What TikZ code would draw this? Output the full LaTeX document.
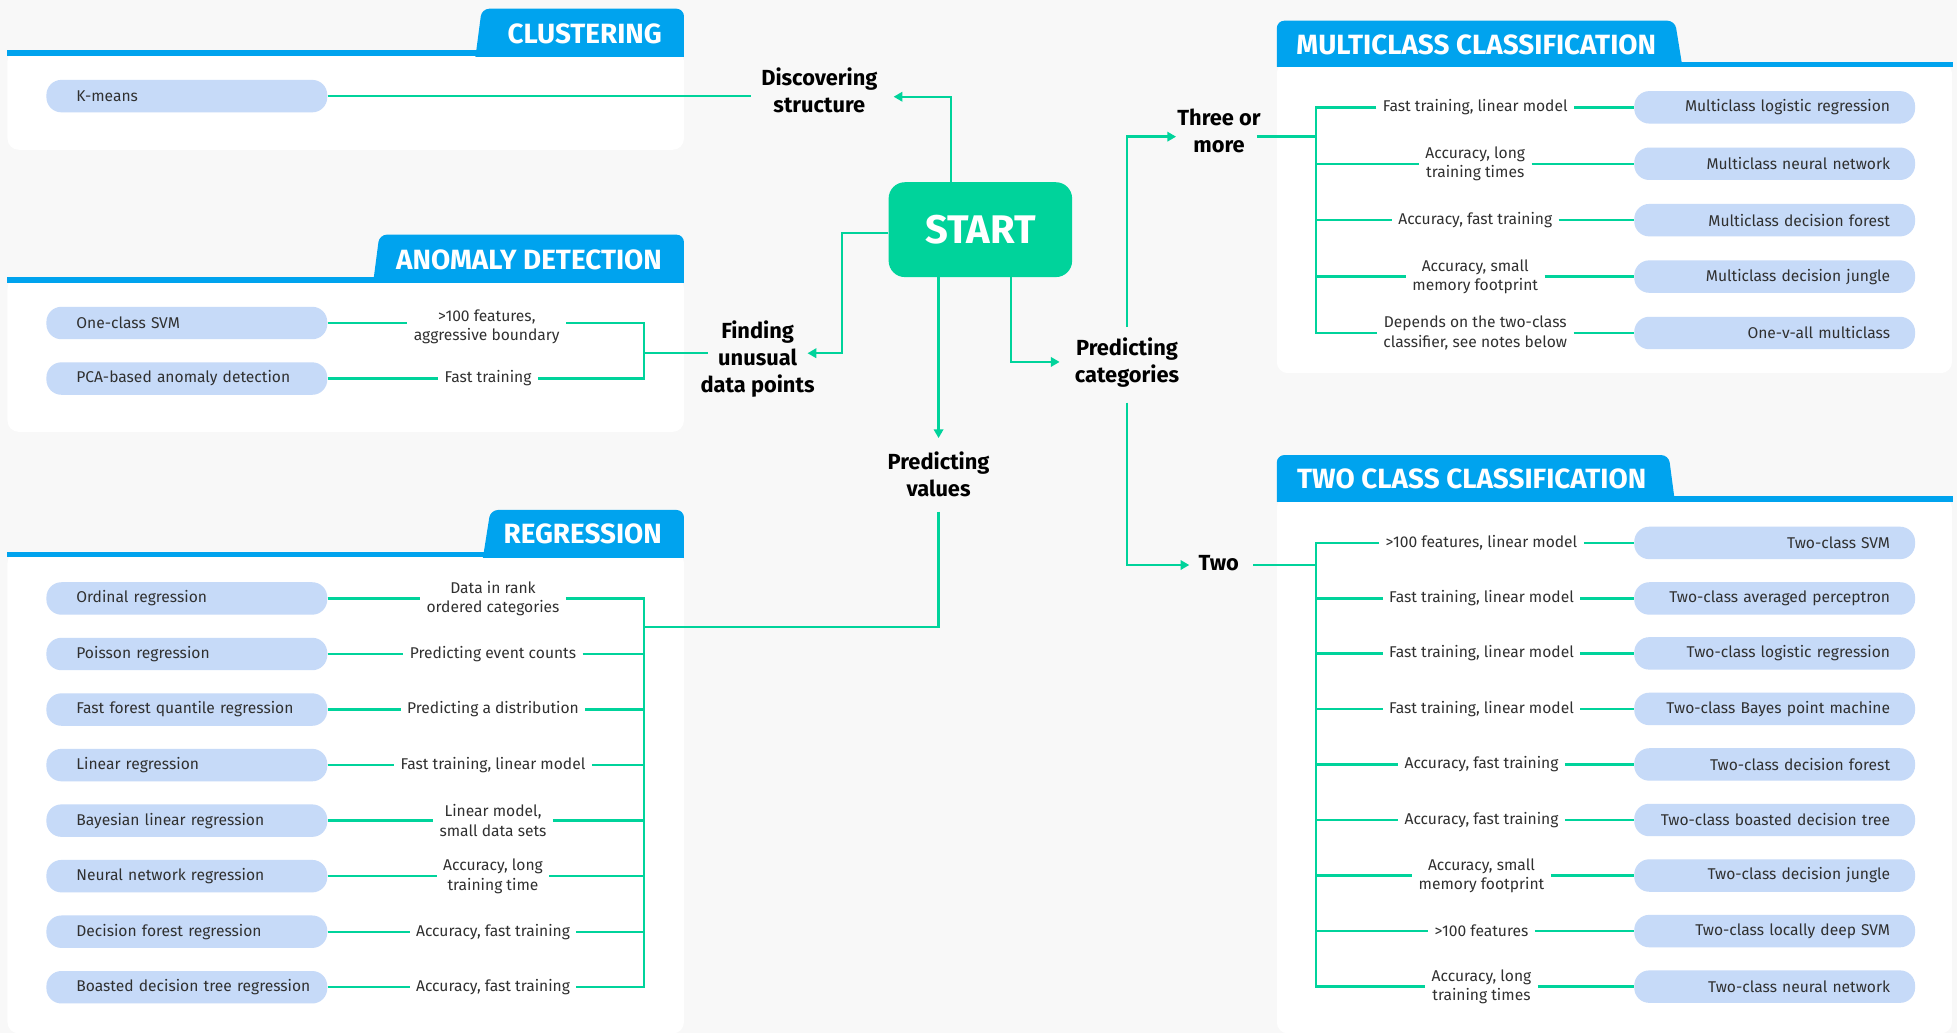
\documentclass[tikz,border=0pt]{standalone}
\usepackage{fontspec}
\setmainfont{Fira Sans}
\usetikzlibrary{arrows.meta,calc}

\definecolor{canvas}{HTML}{F8F8F8}
\definecolor{tabblue}{HTML}{00A3EE}
\definecolor{pillblue}{HTML}{C6DAF8}
\definecolor{flowgreen}{HTML}{00D39B}
\definecolor{ink}{HTML}{303030}

\newcommand\fBody{\fontsize{12.5pt}{15.5pt}\selectfont}
\newcommand\fTitle{\fontsize{22.3pt}{26pt}\selectfont\bfseries}
\newcommand\fDec{\fontsize{17.5pt}{21.5pt}\selectfont\bfseries}
\newcommand\fStart{\fontsize{32pt}{36pt}\selectfont\bfseries}

\begin{document}
\begin{tikzpicture}[x=1pt,y=-1pt,
  flow/.style={draw=flowgreen, line width=1.9pt},
  flowarrow/.style={flow, -{Triangle[length=7pt,width=7.5pt]}},
  pillL/.style={fill=pillblue, rounded corners=12pt, anchor=west, minimum height=26pt,
    inner ysep=0pt, inner xsep=12pt, text width=201pt, align=left, font=\fBody, text=ink,
    execute at begin node={\leavevmode\hspace*{12pt}}},
  pillR/.style={fill=pillblue, rounded corners=12pt, anchor=east, minimum height=26pt,
    inner ysep=0pt, inner xsep=20pt, text width=185pt, align=right, font=\fBody, text=ink},
  lab/.style={inner xsep=5pt, inner ysep=0pt, align=center, font=\fBody, text=ink},
  dec/.style={inner sep=0pt, align=center, font=\fDec, text=black},
  tabtitle/.style={font=\fTitle, text=white, inner sep=0pt},
]
% canvas
\fill[canvas] (0,0) rectangle (1568,828);
\useasboundingbox (0,0) rectangle (1568,828);

% white panels
\fill[white, rounded corners=9pt] (6,40) rectangle (548,120);
\fill[white, rounded corners=9pt] (6,222) rectangle (548,346);
\fill[white, rounded corners=9pt] (6,442) rectangle (548,828);
\fill[white, rounded corners=9pt] (1023,50) rectangle (1564,299);
\fill[white, rounded corners=9pt] (1023,398) rectangle (1564,828);

% header tabs (bottom corners clipped by the header rule)
\begin{scope}
  \clip (0,0) rectangle (1568,45);
  \fill[tabblue, rounded corners=6pt] (379.7,55) -- (386,7) -- (548,7) -- (548,55) -- cycle;
\end{scope}
\begin{scope}
  \clip (0,150) rectangle (1568,226.5);
  \fill[tabblue, rounded corners=6pt] (297.7,236) -- (304,188) -- (548,188) -- (548,236) -- cycle;
\end{scope}
\begin{scope}
  \clip (0,380) rectangle (1568,446.5);
  \fill[tabblue, rounded corners=6pt] (385.4,456.5) -- (393,408.6) -- (548,408.6) -- (548,456.5) -- cycle;
\end{scope}
\begin{scope}
  \clip (0,0) rectangle (1568,53.5);
  \fill[tabblue, rounded corners=6pt] (1023,63.5) -- (1023,16.6) -- (1342,16.6) -- (1349.6,63.5) -- cycle;
\end{scope}
\begin{scope}
  \clip (0,330) rectangle (1568,402);
  \fill[tabblue, rounded corners=6pt] (1023,412) -- (1023,364.6) -- (1337,364.6) -- (1343.3,412) -- cycle;
\end{scope}

% header rules
\fill[tabblue] (6,40) rectangle (548,45);
\fill[tabblue] (6,222) rectangle (548,226.5);
\fill[tabblue] (6,442) rectangle (548,446.5);
\fill[tabblue] (1023,49.5) rectangle (1565,53.5);
\fill[tabblue] (1023,397.5) rectangle (1565,402);

% titles
\node[tabtitle, anchor=east] (tClu) at (530.5,27) {CLUSTERING};
\node[tabtitle, anchor=east] (tAno) at (530.5,208) {ANOMALY DETECTION};
\node[tabtitle, anchor=east] (tReg) at (530.5,428) {REGRESSION};
\node[tabtitle, anchor=west] (tMul) at (1038.5,36) {MULTICLASS CLASSIFICATION};
\node[tabtitle, anchor=west] (tTwo) at (1039,384) {TWO CLASS CLASSIFICATION};

% start and decisions
\node[fill=flowgreen, rounded corners=13pt, minimum width=147pt, minimum height=76pt,
  inner sep=0pt, font=\fStart, text=white] (start) at (785.5,184) {START};
\node[dec] (disc) at (656.5,72.3) {Discovering\\structure};
\node[dec] (find) at (607,287.5) {Finding\\unusual\\data points};
\node[dec] (vals) at (752,380) {Predicting\\values};
\node[dec] (cats) at (903,290.5) {Predicting\\categories};
\node[dec] (three) at (976.7,105) {Three or\\more};
\node[dec] (two) at (976.5,450.8) {Two};

% connector end points and bends
\coordinate (discIn) at (602,77);
\coordinate (discTip) at (716,77.5);
\coordinate (findIn) at (567,283);
\coordinate (findTip) at (647,283);
\coordinate (valsTip) at (752,351);
\coordinate (valsOut) at (752,410);
\coordinate (regJoin) at (516,502.5);
\coordinate (catsTip) at (849,290);
\coordinate (catsUp) at (902.8,262);
\coordinate (catsDown) at (902.8,322.6);
\coordinate (threeTip) at (942.3,109.5);
\coordinate (twoTip) at (952.9,452.7);
\coordinate (threeOut) at (1007,109.5);
\coordinate (twoOut) at (1004,452.7);
\coordinate (aBrk) at (516,0);
\coordinate (rBrk) at (516,0);
\coordinate (mBrk) at (1054.5,0);
\coordinate (tBrk) at (1054.5,0);

% clustering
\node[pillL] (km) at (37,77) {K-means};
\draw[flow] (km.east) -- (discIn);

% anomaly detection
\node[pillL] (pSvm) at (37,258.8) {One-class SVM};
\node[pillL] (pPca) at (37,303.3) {PCA-based anomaly detection};
\node[lab] (lSvm) at (390,262) {>100 features,\\aggressive boundary};
\node[lab] (lPca) at (391,303.3) {Fast training};
\draw[flow] (pSvm.east) -- (pSvm.east -| lSvm.west);
\draw[flow] (pPca.east) -- (pPca.east -| lPca.west);
\draw[flow] (lSvm.east |- pSvm.east) -| (aBrk |- pPca.east) -- (lPca.east |- pPca.east);
\draw[flow] (aBrk |- findIn) -- (findIn);

% regression
\foreach \n/\y/\ptext/\ltext in {
  r1/479.5/{Ordinal regression}/{Data in rank\\ordered categories},
  r2/524/{Poisson regression}/{Predicting event counts},
  r3/568.5/{Fast forest quantile regression}/{Predicting a distribution},
  r4/613/{Linear regression}/{Fast training, linear model},
  r5/657.5/{Bayesian linear regression}/{Linear model,\\small data sets},
  r6/702/{Neural network regression}/{Accuracy, long\\training time},
  r7/746.5/{Decision forest regression}/{Accuracy, fast training},
  r8/791/{Boasted decision tree regression}/{Accuracy, fast training}}{
  \node[pillL] (p\n) at (37,\y) {\ptext};
  \node[lab] (l\n) at (395,\y) {\ltext};
  \draw[flow] (p\n.east) -- (p\n.east -| l\n.west);
}
\draw[flow] (lr1.east |- pr1.east) -| (rBrk |- pr8.east) -- (lr8.east |- pr8.east);
\foreach \n in {r2,r3,r4,r5,r6,r7}{
  \draw[flow] (l\n.east |- p\n.east) -- (rBrk |- p\n.east);
}
\draw[flow] (valsOut) |- (regJoin);

% multiclass classification
\foreach \n/\y/\ltext/\ptext in {
  m1/86/{Fast training, linear model}/{Multiclass logistic regression},
  m2/131.2/{Accuracy, long\\training times}/{Multiclass neural network},
  m3/176.4/{Accuracy, fast training}/{Multiclass decision forest},
  m4/221.6/{Accuracy, small\\memory footprint}/{Multiclass decision jungle},
  m5/266.8/{Depends on the two-class\\classifier, see notes below}/{One-v-all multiclass}}{
  \node[pillR] (p\n) at (1534.6,\y) {\ptext};
  \node[lab] (l\n) at (1182,\y) {\ltext};
  \draw[flow] (l\n.east |- p\n.west) -- (p\n.west);
}
\draw[flow] (lm1.west |- pm1.west) -| (mBrk |- pm5.west) -- (lm5.west |- pm5.west);
\foreach \n in {m2,m3,m4}{
  \draw[flow] (mBrk |- p\n.west) -- (l\n.west |- p\n.west);
}
\draw[flow] (threeOut) -- (mBrk |- threeOut);

% two class classification
\foreach \n/\y/\ltext/\ptext in {
  t1/435/{>100 features, linear model}/{Two-class SVM},
  t2/479.5/{Fast training, linear model}/{Two-class averaged perceptron},
  t3/523.5/{Fast training, linear model}/{Two-class logistic regression},
  t4/568/{Fast training, linear model}/{Two-class Bayes point machine},
  t5/612.5/{Accuracy, fast training}/{Two-class decision forest},
  t6/657/{Accuracy, fast training}/{Two-class boasted decision tree},
  t7/701.5/{Accuracy, small\\memory footprint}/{Two-class decision jungle},
  t8/746/{>100 features}/{Two-class locally deep SVM},
  t9/790.5/{Accuracy, long\\training times}/{Two-class neural network}}{
  \node[pillR] (p\n) at (1534.6,\y) {\ptext};
  \node[lab] (l\n) at (1187,\y) {\ltext};
  \draw[flow] (l\n.east |- p\n.west) -- (p\n.west);
}
\draw[flow] (lt1.west |- pt1.west) -| (tBrk |- pt9.west) -- (lt9.west |- pt9.west);
\foreach \n in {t2,t3,t4,t5,t6,t7,t8}{
  \draw[flow] (tBrk |- p\n.west) -- (l\n.west |- p\n.west);
}
\draw[flow] (twoOut) -- (tBrk |- twoOut);

% decision arrows
\draw[flowarrow] ($(start.north)+(-23.5,0)$) |- (discTip);
\draw[flowarrow] ($(start.west)+(0,2.5)$) -- ++(-37,0) |- (findTip);
\draw[flowarrow] ($(start.south)+(-33.5,0)$) -- (valsTip);
\draw[flowarrow] ($(start.south)+(24.5,0)$) |- (catsTip);
\draw[flowarrow] (catsUp) |- (threeTip);
\draw[flowarrow] (catsDown) |- (twoTip);
\end{tikzpicture}
\end{document}
